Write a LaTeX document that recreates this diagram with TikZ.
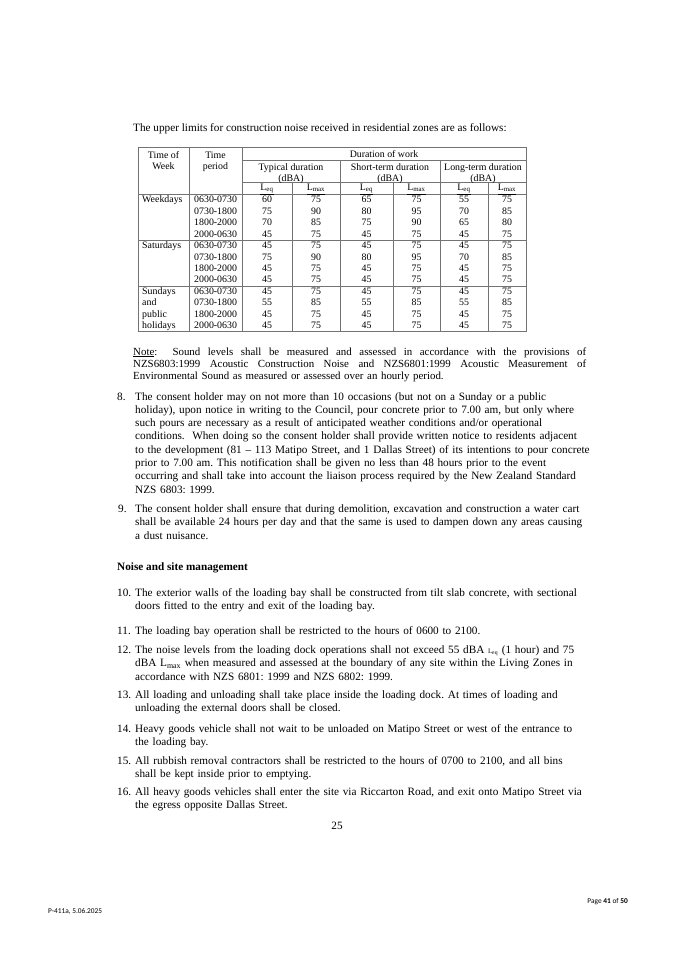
\documentclass[tikz,border=0pt]{standalone}
\usepackage{fontspec}
\setmainfont{Liberation Serif}
\newfontfamily\footfont{Carlito}
\frenchspacing

\begin{document}
\begin{tikzpicture}[
                    x=0.882pt, y=-0.882pt,
                    txt/.style={anchor=base west, inner sep=0pt, text width=480pt, align=left,
                        font=\fontsize{9.9}{11.75}\selectfont},
                    num/.style={anchor=base west, inner sep=0pt, font=\fontsize{9.9}{11.75}\selectfont},
                    cell/.style={anchor=base, inner sep=0pt, font=\fontsize{8.7}{10}\selectfont},
                    lcell/.style={cell, anchor=base west},
                    rule/.style={black!55, line width=0.5pt}
                ]
                \def\Lsub#1{\underline{L\textsubscript{#1}\vphantom{\textsubscript{q}}}}
                \def\fullline#1{\makebox[399.5pt][s]{\spaceskip=.25em plus 3em\relax #1}}
                \useasboundingbox[fill=white] (0, 0) rectangle (675, 955);

                % title line
                \node[num] (title) at (133, 131) {The upper limits for construction noise received in residential zones are as follows:};

                % table frame
                \draw[rule] (138, 147) rectangle (526, 331);
                \draw[rule] (242, 160) -- (526, 160);
                \draw[rule] (242, 182.5) -- (526, 182.5);
                \draw[rule] (138, 194) -- (526, 194);
                \draw[rule] (138, 240) -- (526, 240);
                \draw[rule] (138, 286) -- (526, 286);
                \draw[rule] (189, 147) -- (189, 331);
                \draw[rule] (242, 147) -- (242, 331);
                \draw[rule] (340, 160) -- (340, 331);
                \draw[rule] (440, 160) -- (440, 331);
                \draw[rule] (292, 182.5) -- (292, 331);
                \draw[rule] (393, 182.5) -- (393, 331);
                \draw[rule] (488, 182.5) -- (488, 331);

                % table head
                \node[cell] (timeof) at (163.5, 158) {Time of};
                \node[cell] (week) at (163.5, 169) {Week};
                \node[cell] (time) at (215.5, 158) {Time};
                \node[cell] (period) at (215.5, 169) {period};
                \node[cell] (duration) at (384, 157.3) {Duration of work};
                \node[cell] (typical) at (291, 170.7) {Typical duration};
                \node[cell] (short) at (390, 170.7) {Short-term duration};
                \node[cell] (long) at (483, 170.7) {Long-term duration};
                \node[cell] (dbaT) at (291, 181.3) {(dBA)};
                \node[cell] (dbaS) at (390, 181.3) {(dBA)};
                \node[cell] (dbaL) at (483, 181.3) {(dBA)};
                \node[cell] (leqT) at (267, 190.3) {\Lsub{eq}};
                \node[cell] (lmaxT) at (316, 190.3) {\Lsub{max}};
                \node[cell] (leqS) at (366.5, 190.3) {\Lsub{eq}};
                \node[cell] (lmaxS) at (416.5, 190.3) {\Lsub{max}};
                \node[cell] (leqL) at (464, 190.3) {\Lsub{eq}};
                \node[cell] (lmaxL) at (507, 190.3) {\Lsub{max}};

                % table body
                \node[lcell] (weekdays) at (142, 202.9) {Weekdays};
                \node[lcell] (saturdays) at (142, 248.6) {Saturdays};
                \node[lcell] (sundays) at (142, 294.3) {Sundays};
                \node[lcell] (and) at (142, 305.7) {and};
                \node[lcell] (public) at (142, 317.1) {public};
                \node[lcell] (holidays) at (142, 328.5) {holidays};
                \foreach \r/\per/\a/\b/\c/\d/\e/\f in {
                        0/0630-0730/60/75/65/75/55/75, 1/0730-1800/75/90/80/95/70/85,
                        2/1800-2000/70/85/75/90/65/80, 3/2000-0630/45/75/45/75/45/75,
                        4/0630-0730/45/75/45/75/45/75, 5/0730-1800/75/90/80/95/70/85,
                        6/1800-2000/45/75/45/75/45/75, 7/2000-0630/45/75/45/75/45/75,
                        8/0630-0730/45/75/45/75/45/75, 9/0730-1800/55/85/55/85/55/85,
                        10/1800-2000/45/75/45/75/45/75, 11/2000-0630/45/75/45/75/45/75}
                {
                    \node[lcell] (per\r) at (194, {202.9 + 11.42*\r}) {\per};
                    \node[cell] (leqT\r) at (267, {202.9 + 11.42*\r}) {\a};
                    \node[cell] (lmaxT\r) at (316, {202.9 + 11.42*\r}) {\b};
                    \node[cell] (leqS\r) at (366.5, {202.9 + 11.42*\r}) {\c};
                    \node[cell] (lmaxS\r) at (416.5, {202.9 + 11.42*\r}) {\d};
                    \node[cell] (leqL\r) at (464, {202.9 + 11.42*\r}) {\e};
                    \node[cell] (lmaxL\r) at (507, {202.9 + 11.42*\r}) {\f};
                }

                % note under the table
                \node[txt, font=\fontsize{9.6}{11}\selectfont] (note) at (133, 355) {%
                    \fullline{\underline{Note}:\ \ Sound levels shall be measured and assessed in accordance with the provisions of}\\
                    \fullline{NZS6803:1999 Acoustic Construction Noise and NZS6801:1999 Acoustic Measurement of}\\
                    Environmental Sound as measured or assessed over an hourly period.};

                % conditions 8 and 9
                \node[num] (n8) at (117, 400) {8.};
                \node[txt] (p8) at (135, 400) {The consent holder may on not more than 10 occasions (but not on a Sunday or a public\\
                    holiday), upon notice in writing to the Council, pour concrete prior to 7.00 am, but only where\\
                    such pours are necessary as a result of anticipated weather conditions and/or operational\\
                    conditions.\ \ When doing so the consent holder shall provide written notice to residents adjacent\\
                    to the development (81 – 113 Matipo Street, and 1 Dallas Street) of its intentions to pour concrete\\
                    prior to 7.00 am. This notification shall be given no less than 48 hours prior to the event\\
                    occurring and shall take into account the liaison process required by the New Zealand Standard\\
                    NZS 6803: 1999.};
                \node[num] (n9) at (118, 512.5) {9.};
                \node[txt] (p9) at (135, 512.5) {The consent holder shall ensure that during demolition, excavation and construction a water cart\\
                    shall be available 24 hours per day and that the same is used to dampen down any areas causing\\
                    a dust nuisance.};

                % heading
                \node[num, font=\fontsize{9.9}{11.75}\selectfont\bfseries] (head) at (117, 570) {Noise and site management};

                % conditions 10 to 16
                \node[num] (n10) at (117, 596) {10.};
                \node[txt] (p10) at (135, 596) {The exterior walls of the loading bay shall be constructed from tilt slab concrete, with sectional\\
                    doors fitted to the entry and exit of the loading bay.};
                \node[num] (n11) at (117, 634) {11.};
                \node[txt] (p11) at (135, 634) {The loading bay operation shall be restricted to the hours of 0600 to 2100.};
                \node[num] (n12) at (117, 653.5) {12.};
                \node[txt] (p12) at (135, 653.5) {The noise levels from the loading dock operations shall not exceed 55 dBA {\fontsize{6}{7}\selectfont L\textsubscript{eq}} (1 hour) and 75\\
                    dBA L\textsubscript{max} when measured and assessed at the boundary of any site within the Living Zones in\\
                    accordance with NZS 6801: 1999 and NZS 6802: 1999.};
                \node[num] (n13) at (117, 698.5) {13.};
                \node[txt] (p13) at (135, 698.5) {All loading and unloading shall take place inside the loading dock. At times of loading and\\
                    unloading the external doors shall be closed.};
                \node[num] (n14) at (117, 732) {14.};
                \node[txt] (p14) at (135, 732) {Heavy goods vehicle shall not wait to be unloaded on Matipo Street or west of the entrance to\\
                    the loading bay.};
                \node[num] (n15) at (117, 764.5) {15.};
                \node[txt] (p15) at (135, 764.5) {All rubbish removal contractors shall be restricted to the hours of 0700 to 2100, and all bins\\
                    shall be kept inside prior to emptying.};
                \node[num] (n16) at (117, 795) {16.};
                \node[txt] (p16) at (135, 795) {All heavy goods vehicles shall enter the site via Riccarton Road, and exit onto Matipo Street via\\
                    the egress opposite Dallas Street.};

                % page number and footer
                \node[num, anchor=base] (pagenum) at (337, 829) {25};
                \node[anchor=base east, inner sep=0pt, font=\footfont\fontsize{6.5}{7}\selectfont] (footr) at (628, 903.5) {Page \textbf{41} of \textbf{50}};
                \node[anchor=base west, inner sep=0pt, font=\footfont\fontsize{6.5}{7}\selectfont] (footl) at (48, 913) {P-411a, 5.06.2025};
            \end{tikzpicture}
\end{document}
